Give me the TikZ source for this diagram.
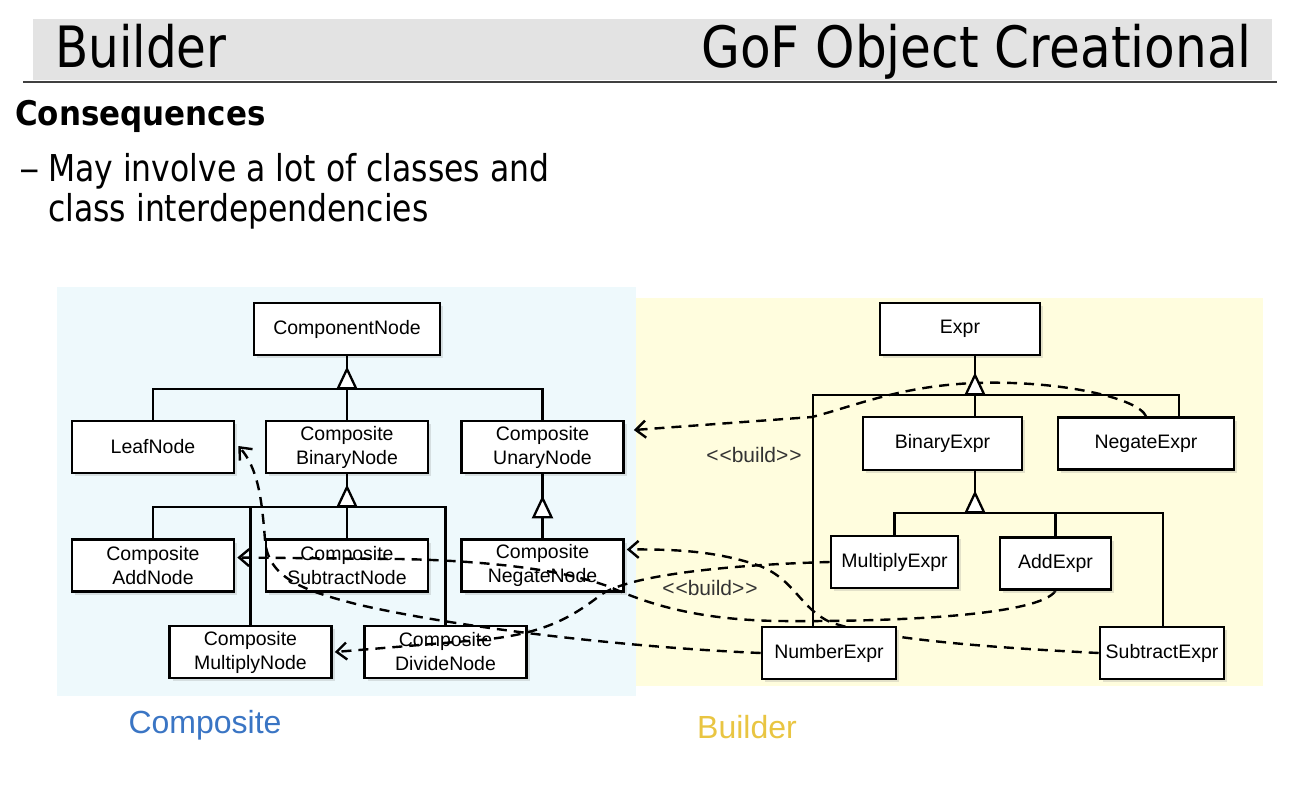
\documentclass[tikz,border=0pt]{standalone}
\usepackage{fontspec}
\setmainfont{Liberation Sans}
\newfontfamily\slidefont{DejaVu Sans}[FakeStretch=0.85]
\newfontfamily\bandfont{DejaVu Sans}[FakeStretch=0.88]
\newfontfamily\headfont{DejaVu Sans}[FakeStretch=0.91]
\usepackage{xcolor}
\usetikzlibrary{arrows.meta, shadows, positioning}
\definecolor{compbg}{RGB}{238, 249, 252}
\definecolor{buildbg}{RGB}{255, 253, 222}
\definecolor{bandgray}{RGB}{227, 227, 227}
\definecolor{compblue}{RGB}{58, 117, 196}
\definecolor{buildyellow}{RGB}{233, 197, 66}
\newcommand{\stereo}[1]{<\kern1pt<#1>\kern1pt>}
\pgfdeclarelayer{back}
\pgfdeclarelayer{lower}
\pgfdeclarelayer{links}
\pgfsetlayers{back,lower,links,main}

\begin{document}
\begin{tikzpicture}[x=1pt, y=-1pt,
    cls/.style={rectangle, draw, line width=2.6pt, fill=white, align=center, inner sep=0pt,
                minimum width=162pt, minimum height=52pt,
                font=\fontsize{19.5}{24}\selectfont,
                drop shadow={opacity=0.22, shadow xshift=3pt, shadow yshift=-3pt}},
    tree/.style={line width=2.3pt},
    isa/.style={line width=2.3pt, -{Triangle[fill=white, length=23pt, width=21pt]}},
    build/.style={line width=2.4pt, dash pattern=on 10pt off 7pt,
                  -{Straight Barb[length=10pt, width=17pt]}},
    note/.style={font=\fontsize{21}{24}\selectfont, text=black!80},
    slide/.style={anchor=base west, inner sep=0pt}]
    \useasboundingbox (0,0) rectangle (1298,804);

    % Title bar
    \fill[bandgray] (33,19) rectangle (1272,80);
    \draw[line width=1.8pt, black!75] (23,82) -- (1277,82);
    \node[slide, font=\slidefont\fontsize{57}{60}\selectfont] (title) at (55,67) {Builder};
    \node[anchor=base east, inner sep=0pt, font=\bandfont\fontsize{57}{60}\selectfont] (family) at (1252,67) {GoF Object Creational};

    % Slide text
    \node[slide, font=\headfont\bfseries\fontsize{34}{40}\selectfont] (conseq) at (15,125) {Consequences};
    \node[slide, font=\slidefont\fontsize{37}{40}\selectfont, xscale=1.3, transform shape] (dash) at (19,181) {–};
    \node[slide, font=\slidefont\fontsize{37}{40}\selectfont] (line1) at (48,181) {May involve a lot of classes and};
    \node[slide, font=\slidefont\fontsize{37}{40}\selectfont] (line2) at (48,221) {class interdependencies};

    % Backgrounds
    \begin{pgfonlayer}{back}
    \fill[compbg] (57,287) rectangle (636,696);
    \fill[buildbg] (636,298) rectangle (1263,686);
    \end{pgfonlayer}

    % Composite classes
    \begin{pgfonlayer}{lower}
    \node[cls, minimum width=186pt] (ComponentNode) at (347,329) {ComponentNode};
    \node[cls] (LeafNode) at (153,447) {LeafNode};
    \node[cls] (BinaryNode) at (347,447) {Composite\\BinaryNode};
    \node[cls] (UnaryNode) at (542.5,447) {Composite\\UnaryNode};
    \node[cls] (AddNode) at (153,565.5) {Composite\\AddNode};
    \node[cls] (SubtractNode) at (347,565.5) {Composite\\SubtractNode};
    \node[cls] (NegateNode) at (542.5,565.5) {Composite\\NegateNode};
    \node[cls] (MultiplyNode) at (250.5,652) {Composite\\MultiplyNode};
    \node[cls] (DivideNode) at (445.5,652) {Composite\\DivideNode};
    \end{pgfonlayer}

    % Composite hierarchy
    \coordinate (barA) at (347,389);
    \coordinate (barB) at (347,507);
    \coordinate (barC) at (542.5,518);
    \draw[tree] (LeafNode.north) |- (barA) -| (UnaryNode.north);
    \draw[tree] (BinaryNode.north) -- (barA) -- (ComponentNode.south);
    \draw[isa, shorten >=10pt] (barA) -- (ComponentNode.south);
    \draw[tree] (AddNode.north) |- (barB) -| (DivideNode.north);
    \draw[tree] (MultiplyNode.north) -- (MultiplyNode.north |- barB);
    \draw[tree] (SubtractNode.north) -- (barB) -- (BinaryNode.south);
    \draw[isa, shorten >=10pt] (barB) -- (BinaryNode.south);
    \draw[tree] (NegateNode.north) -- (UnaryNode.south);
    \draw[isa, shorten >=21pt] (barC) -- (UnaryNode.south);

    % Builder classes
    \node[cls, minimum width=160pt] (Expr) at (960,329) {Expr};
    \node[cls, minimum width=159pt, minimum height=53pt] (BinaryExpr) at (942.5,443.5) {BinaryExpr};
    \node[cls, minimum width=176pt] (NegateExpr) at (1146,443.5) {NegateExpr};
    \node[cls, minimum width=127pt] (MultiplyExpr) at (894.5,562) {MultiplyExpr};
    \node[cls, minimum width=111pt] (AddExpr) at (1055.5,563.5) {AddExpr};
    \node[cls, minimum width=134pt] (NumberExpr) at (829,653) {NumberExpr};
    \node[cls, minimum width=124pt] (SubtractExpr) at (1162,653) {SubtractExpr};

    % Builder hierarchy
    \coordinate (barE) at (975,395);
    \coordinate (barN) at (813,395);
    \coordinate (barG) at (1179,395);
    \coordinate (barX) at (975,513);
    \coordinate (barS) at (1163,513);
    \draw[tree] (barN |- NumberExpr.north) -- (barN) -- (barG) -- (barG |- NegateExpr.north);
    \draw[tree] (barE |- BinaryExpr.north) -- (barE |- Expr.south);
    \draw[isa, shorten >=16pt] (barE) -- (barE |- Expr.south);
    \draw[tree] (MultiplyExpr.north) |- (barX) -| (barS |- SubtractExpr.north);
    \draw[tree] (AddExpr.north) -- (AddExpr.north |- barX);
    \draw[tree] (barX) -- (barE |- BinaryExpr.south);
    \draw[isa, shorten >=19pt] (barX) -- (barE |- BinaryExpr.south);

    % Build links
    \begin{pgfonlayer}{links}
    \draw[build] (NegateExpr.north) .. controls (1138,398) and (1060,380) .. (975,383)
        .. controls (900,386) and (855,406) .. (812,417) -- ([shift={(9pt,17pt)}]UnaryNode.east);
    \draw[build] (MultiplyExpr.west) .. controls (720,565) and (630,576) .. (602,594)
        .. controls (572,617) and (545,634) .. (480,640) -- ([xshift=2pt]MultiplyNode.east);
    \draw[build] (NumberExpr.west) .. controls (640,648) and (470,630) .. (360,605)
        .. controls (300,590) and (268,577) .. (265,540)
        .. controls (262,500) and (258,468) .. ([shift={(3pt,1pt)}]LeafNode.east);
    \draw[build] (SubtractExpr.west) .. controls (1000,648) and (880,640) .. (830,622)
        .. controls (800,608) and (795,580) .. (760,566)
        .. controls (720,552) and (680,549) .. ([shift={(2pt,16pt)}]NegateNode.east);
    \draw[build] (AddExpr.south) .. controls (1040,615) and (900,622) .. (780,621)
        .. controls (700,620) and (650,605) .. (610,587)
        .. controls (570,572) and (500,561) .. (400,559) -- ([shift={(2pt,8pt)}]AddNode.east);
    \end{pgfonlayer}
    \node[note] (build1) at (754,455) {\stereo{build}};
    \node[note] (build2) at (710,588) {\stereo{build}};

    % Side labels
    \node[font=\fontsize{32}{36}\selectfont, text=compblue] (compLabel) at (205,725) {Composite};
    \node[font=\fontsize{32}{36}\selectfont, text=buildyellow] (buildLabel) at (747,727) {Builder};
\end{tikzpicture}
\end{document}
